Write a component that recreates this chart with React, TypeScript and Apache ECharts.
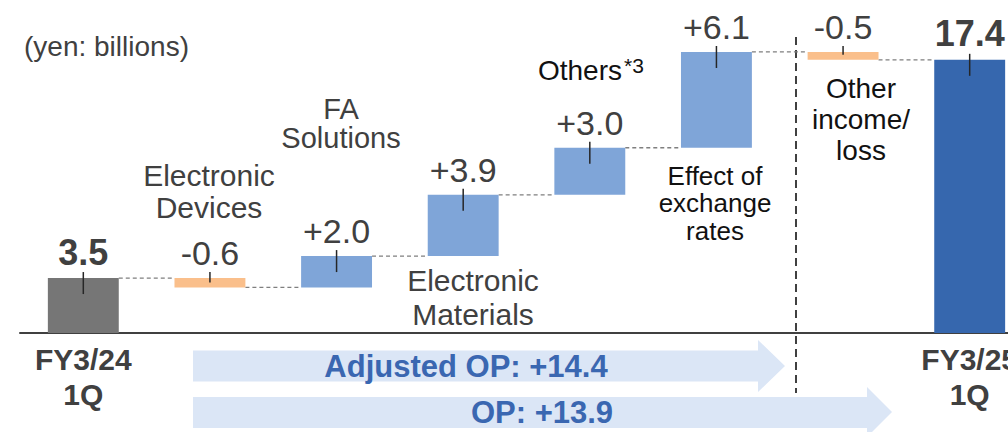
import React, { useEffect, useRef } from "react";
import * as echarts from "echarts";

// Operating profit bridge, FY3/24 1Q -> FY3/25 1Q (yen: billions)
const categories = [
  "FY3/24 1Q",
  "Electronic Devices",
  "FA Solutions",
  "Electronic Materials",
  "Others",
  "Effect of exchange rates",
  "Other income/loss",
  "FY3/25 1Q",
];
const changes = [3.5, -0.6, 2.0, 3.9, 3.0, 6.1, -0.5, 17.4];
const isTotal = [true, false, false, false, false, false, false, true];
const barColors = ["#767676", "#fabf8b", "#7fa5d8", "#7fa5d8", "#7fa5d8", "#7fa5d8", "#fabf8b", "#3667ae"];
// Segments counted in the adjusted operating profit bridge
const adjustedIdx = [1, 2, 3, 4, 5];
const opIdx = [1, 2, 3, 4, 5, 6];

const TEXT = "#404040";
const FONT = "'Liberation Sans', Arial, sans-serif";

function buildLevels() {
  const low: number[] = [];
  const high: number[] = [];
  const ends: number[] = [];
  let running = 0;
  changes.forEach((v, i) => {
    if (isTotal[i]) {
      low.push(0);
      high.push(v);
      running = v;
    } else {
      const next = +(running + v).toFixed(4);
      low.push(Math.min(running, next));
      high.push(Math.max(running, next));
      running = next;
    }
    ends.push(running);
  });
  return { low, high, ends };
}

function fmt(v: number, total: boolean) {
  if (total) return v.toFixed(1);
  return (v > 0 ? "+" : "") + v.toFixed(1);
}

export default function App() {
  const ref = useRef<HTMLDivElement>(null);

  useEffect(() => {
    if (!ref.current) return;
    const chart = echarts.init(ref.current, null, { renderer: "svg" });
    const { low, high, ends } = buildLevels();
    const last = categories.length - 1;
    const sum = (idx: number[]) => idx.reduce((s, i) => s + changes[i], 0);
    const adjustedTxt = "Adjusted OP: " + fmt(sum(adjustedIdx), false);
    const opTxt = "OP: " + fmt(sum(opIdx), false);

    const barData = changes.map((v, i) => ({
      value: +(high[i] - low[i]).toFixed(4),
      itemStyle: { color: barColors[i] },
      label: { fontWeight: isTotal[i] ? "bold" : "normal", fontSize: isTotal[i] ? 36 : 34 },
    }));

    const connectorData = ends.slice(0, last).map((lvl, i) => [i, lvl]);
    const tickData = changes.map((_, i) => [i, high[i], low[i]]);

    const arrowFill = "#dbe6f6";
    const arrowText = "#3a67b1";

    chart.setOption({
      animation: false,
      grid: { left: 20, right: -25, top: 19, bottom: 99, outerBoundsMode: "none", containLabel: false },
      xAxis: {
        type: "category",
        data: categories,
        axisLine: { show: true, lineStyle: { color: TEXT, width: 2 } },
        axisTick: { show: false },
        axisLabel: {
          interval: 0,
          margin: 9,
          color: TEXT,
          fontFamily: FONT,
          fontWeight: "bold",
          fontSize: 30,
          lineHeight: 35,
          formatter: (v: string, i: number) =>
            i === 0 || i === last ? v.replace(" ", "\n") : "",
        },
      },
      yAxis: { type: "value", min: 0, max: 20, show: false },
      series: [
        {
          name: "base",
          type: "bar",
          stack: "bridge",
          barWidth: "56%",
          silent: true,
          itemStyle: { color: "transparent" },
          data: low,
        },
        {
          name: "change",
          type: "bar",
          stack: "bridge",
          barWidth: "56%",
          data: barData,
          label: {
            show: true,
            position: "top",
            distance: 8,
            color: TEXT,
            fontFamily: FONT,
            formatter: (p: any) => fmt(changes[p.dataIndex], isTotal[p.dataIndex]),
          },
        },
        {
          name: "connectors",
          type: "custom",
          silent: true,
          z: 1,
          encode: { x: 0, y: 1 },
          data: connectorData,
          renderItem: (params: any, api: any) => {
            const p = api.coord([api.value(0), api.value(1)]);
            const band = api.size([1, 0])[0];
            const half = band * 0.28;
            return {
              type: "line",
              shape: { x1: p[0] + half, y1: p[1], x2: p[0] + band - half, y2: p[1] },
              style: { stroke: "#7f7f7f", lineWidth: 1.3, lineDash: [4, 3] },
            };
          },
        },
        {
          name: "ticks",
          type: "custom",
          silent: true,
          z: 5,
          encode: { x: 0, y: 1 },
          data: tickData,
          renderItem: (params: any, api: any) => {
            const top = api.coord([api.value(0), api.value(1)]);
            const bot = api.coord([api.value(0), api.value(2)]);
            const h = bot[1] - top[1];
            const below = Math.min(16, Math.max(2, h - 5));
            return {
              type: "line",
              shape: { x1: top[0], y1: top[1] - 6, x2: top[0], y2: top[1] + below },
              style: { stroke: "#262626", lineWidth: 1.5 },
            };
          },
        },
      ],
      graphic: [
        // block arrows under the axis
        {
          type: "polygon",
          silent: true,
          shape: {
            points: [[193, 350.5], [758, 350.5], [758, 340], [785, 366], [758, 392], [758, 381.5], [193, 381.5]],
          },
          style: { fill: arrowFill },
        },
        {
          type: "polygon",
          silent: true,
          shape: {
            points: [[193, 397], [867, 397], [867, 387], [892, 412], [867, 437], [867, 428], [193, 428]],
          },
          style: { fill: arrowFill },
        },
        {
          type: "text",
          x: 466,
          y: 366,
          style: {
            text: adjustedTxt,
            fill: arrowText,
            font: `bold 31px ${FONT}`,
            textAlign: "center",
            textVerticalAlign: "middle",
          },
        },
        {
          type: "text",
          x: 542,
          y: 412,
          style: {
            text: opTxt,
            fill: arrowText,
            font: `bold 31px ${FONT}`,
            textAlign: "center",
            textVerticalAlign: "middle",
          },
        },
        // divider between operating items and other income/loss
        {
          type: "line",
          silent: true,
          shape: { x1: 796, y1: 37, x2: 796, y2: 393 },
          style: { stroke: TEXT, lineWidth: 2, lineDash: [8, 5] },
        },
        {
          type: "text",
          x: 24,
          y: 46,
          style: { text: "(yen: billions)", fill: TEXT, font: `28px ${FONT}`, textVerticalAlign: "middle" },
        },
        // segment names
        {
          type: "text",
          x: 209,
          y: 191.5,
          style: {
            text: "Electronic\nDevices",
            fill: TEXT,
            font: `30px ${FONT}`,
            lineHeight: 32,
            textAlign: "center",
            textVerticalAlign: "middle",
          },
        },
        {
          type: "text",
          x: 341,
          y: 123,
          style: {
            text: "FA\nSolutions",
            fill: TEXT,
            font: `29px ${FONT}`,
            lineHeight: 29,
            textAlign: "center",
            textVerticalAlign: "middle",
          },
        },
        {
          type: "text",
          x: 473,
          y: 297.5,
          style: {
            text: "Electronic\nMaterials",
            fill: TEXT,
            font: `30px ${FONT}`,
            lineHeight: 34,
            textAlign: "center",
            textVerticalAlign: "middle",
          },
        },
        {
          type: "text",
          x: 622,
          y: 70,
          style: {
            text: "Others",
            fill: "#111111",
            font: `28px ${FONT}`,
            textAlign: "right",
            textVerticalAlign: "middle",
          },
        },
        {
          type: "text",
          x: 624,
          y: 65,
          style: {
            text: "*3",
            fill: "#111111",
            font: `21px ${FONT}`,
            textAlign: "left",
            textVerticalAlign: "middle",
          },
        },
        {
          type: "text",
          x: 715,
          y: 203,
          style: {
            text: "Effect of\nexchange\nrates",
            fill: "#111111",
            font: `26px ${FONT}`,
            lineHeight: 27.5,
            textAlign: "center",
            textVerticalAlign: "middle",
          },
        },
        {
          type: "text",
          x: 861,
          y: 119.5,
          style: {
            text: "Other\nincome/\nloss",
            fill: "#111111",
            font: `28px ${FONT}`,
            lineHeight: 31,
            textAlign: "center",
            textVerticalAlign: "middle",
          },
        },
      ],
    });

    return () => chart.dispose();
  }, []);

  return (
    <div
      ref={ref}
      style={{ position: "absolute", left: 0, top: 0, width: 1008, height: 432, background: "#ffffff" }}
    />
  );
}
